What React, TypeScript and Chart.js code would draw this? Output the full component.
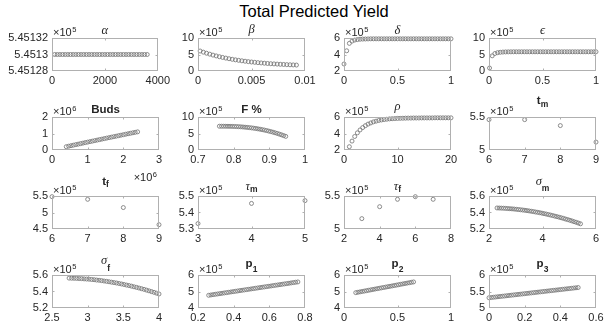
import React, { useEffect, useRef } from 'react';
import { Chart, registerables } from 'chart.js';
Chart.register(...registerables);

// ---------------- data (mantissas; exponents given per subplot) ----------------
const alphaX = [100,200,300,400,500,600,700,800,900,1000,1100,1200,1300,1400,1500,1600,1700,1800,1900,2000,2100,2200,2300,2400,2500,2600,2700,2800,2900,3000,3100,3200,3300,3400,3500,3600];
const alphaY = [5.4513,5.4513,5.4513,5.4513,5.4513,5.4513,5.4513,5.4513,5.4513,5.4513,5.4513,5.4513,5.4513,5.4513,5.4513,5.4513,5.4513,5.4513,5.4513,5.4513,5.4513,5.4513,5.4513,5.4513,5.4513,5.4513,5.4513,5.4513,5.4513,5.4513,5.4513,5.4513,5.4513,5.4513,5.4513,5.4513];

const betaX = [0.0002,0.0005,0.0008,0.0011,0.0014,0.0017,0.002,0.0023,0.0026,0.0029,0.0032,0.0035,0.0038,0.0041,0.0044,0.0047,0.005,0.0053,0.0056,0.0059,0.0062,0.0065,0.0068,0.0071,0.0074,0.0077,0.008,0.0083,0.0086,0.0089,0.0092];
const betaY = [6.06,5.71,5.39,5.10,4.82,4.57,4.33,4.11,3.91,3.72,3.55,3.38,3.23,3.09,2.96,2.84,2.73,2.63,2.53,2.44,2.36,2.28,2.21,2.15,2.09,2.03,1.98,1.93,1.88,1.84,1.80];

const deltaX = [0,0.025,0.05,0.075,0.1,0.125,0.15,0.175,0.2,0.225,0.25,0.275,0.3,0.325,0.35,0.375,0.4,0.425,0.45,0.475,0.5,0.525,0.55,0.575,0.6,0.625,0.65,0.675,0.7,0.725,0.75,0.775,0.8,0.825,0.85,0.875,0.9,0.925,0.95,0.975,1];
const deltaY = [2.85,4.45,5.35,5.62,5.75,5.81,5.85,5.87,5.88,5.89,5.9,5.9,5.9,5.9,5.9,5.9,5.9,5.9,5.9,5.9,5.9,5.9,5.9,5.9,5.9,5.9,5.9,5.9,5.9,5.9,5.9,5.9,5.9,5.9,5.9,5.9,5.9,5.9,5.9,5.9,5.9];

const epsilonX = [0.005,0.03,0.055,0.08,0.105,0.13,0.155,0.18,0.205,0.23,0.255,0.28,0.305,0.33,0.355,0.38,0.405,0.43,0.455,0.48,0.505,0.53,0.555,0.58,0.605,0.63,0.655,0.68,0.705,0.73,0.755,0.78,0.805,0.83,0.855,0.88,0.905,0.93,0.955,0.98,1];
const epsilonY = [0.9,4.6,5.3,5.55,5.67,5.74,5.78,5.8,5.81,5.82,5.82,5.82,5.82,5.82,5.82,5.82,5.82,5.82,5.82,5.82,5.82,5.82,5.82,5.82,5.82,5.82,5.82,5.82,5.82,5.82,5.82,5.82,5.82,5.82,5.82,5.82,5.82,5.82,5.82,5.82,5.82];

const budsX = [0.4,0.467,0.533,0.6,0.667,0.733,0.8,0.867,0.933,1.0,1.067,1.133,1.2,1.267,1.333,1.4,1.467,1.533,1.6,1.667,1.733,1.8,1.867,1.933,2.0,2.067,2.133,2.2,2.267,2.333,2.4];
const budsY = [0.2,0.231,0.262,0.294,0.325,0.355,0.386,0.417,0.448,0.478,0.509,0.539,0.57,0.6,0.63,0.66,0.69,0.72,0.75,0.78,0.809,0.838,0.868,0.897,0.926,0.956,0.985,1.014,1.043,1.071,1.1];

const fPctX = [0.76,0.766,0.772,0.778,0.784,0.79,0.796,0.802,0.808,0.814,0.82,0.826,0.832,0.838,0.844,0.85,0.856,0.862,0.868,0.874,0.88,0.886,0.892,0.898,0.904,0.91,0.916,0.922,0.928,0.934,0.94,0.946];
const fPctY = [7.2,7.2,7.2,7.19,7.18,7.17,7.15,7.13,7.1,7.06,7.02,6.97,6.91,6.85,6.78,6.7,6.61,6.52,6.41,6.3,6.17,6.04,5.9,5.74,5.58,5.41,5.22,5.03,4.82,4.6,4.37,4.13];

const rhoX = [1,1.5,2,2.5,3,3.5,4,4.5,5,5.5,6,6.5,7,7.5,8,8.5,9,9.5,10,10.5,11,11.5,12,12.5,13,13.5,14,14.5,15,15.5,16,16.5,17,17.5,18,18.5,19,19.5,20];
const rhoY = [2.4,3.08,3.64,4.08,4.43,4.72,4.95,5.14,5.28,5.41,5.5,5.58,5.64,5.69,5.73,5.77,5.79,5.81,5.83,5.84,5.85,5.86,5.87,5.87,5.88,5.88,5.88,5.89,5.89,5.89,5.89,5.89,5.9,5.9,5.9,5.9,5.9,5.9,5.9];

const tmX = [6,7,8,9];
const tmY = [5.46,5.46,5.37,5.12];
const tfX = [6,7,8,9];
const tfY = [5.48,5.4,5.15,4.63];
const tauMX = [3,4,5];
const tauMY = [5.333,5.455,5.472];
const tauFX = [3,4,5,6,7];
const tauFY = [5.157,5.338,5.45,5.49,5.45];

const sigmaMX = [2.30,2.38,2.46,2.54,2.62,2.70,2.78,2.86,2.94,3.02,3.10,3.18,3.26,3.34,3.42,3.50,3.58,3.66,3.74,3.82,3.90,3.98,4.06,4.14,4.22,4.30,4.38,4.46,4.54,4.62,4.70,4.78,4.86,4.94,5.02,5.10,5.18,5.26,5.34,5.42];
const sigmaMY = [5.455,5.454,5.453,5.452,5.45,5.448,5.446,5.444,5.442,5.439,5.436,5.433,5.43,5.427,5.423,5.419,5.415,5.411,5.406,5.402,5.397,5.392,5.386,5.381,5.375,5.369,5.363,5.356,5.35,5.343,5.336,5.329,5.321,5.314,5.306,5.298,5.289,5.281,5.272,5.263];

const sigmaFX = [2.74,2.775,2.81,2.845,2.88,2.915,2.95,2.985,3.02,3.055,3.09,3.125,3.16,3.195,3.23,3.265,3.3,3.335,3.37,3.405,3.44,3.475,3.51,3.545,3.58,3.615,3.65,3.685,3.72,3.755,3.79,3.825,3.86,3.895,3.93,3.965,4.0];
const sigmaFY = [5.562,5.561,5.56,5.559,5.557,5.556,5.553,5.551,5.549,5.546,5.543,5.539,5.536,5.532,5.527,5.523,5.518,5.513,5.508,5.503,5.497,5.491,5.485,5.478,5.472,5.465,5.457,5.45,5.442,5.434,5.426,5.417,5.408,5.399,5.39,5.38,5.37];

const p1X = [0.26,0.2725,0.285,0.2975,0.31,0.3225,0.335,0.3475,0.36,0.3725,0.385,0.3975,0.41,0.4225,0.435,0.4475,0.46,0.4725,0.485,0.4975,0.51,0.5225,0.535,0.5475,0.56,0.5725,0.585,0.5975,0.61,0.6225,0.635,0.6475,0.66,0.6725,0.685,0.6975,0.71,0.7225,0.735,0.7475,0.76];
const p1Y = [4.77,4.79,4.811,4.831,4.851,4.871,4.892,4.912,4.932,4.952,4.973,4.993,5.013,5.033,5.054,5.074,5.094,5.115,5.135,5.155,5.175,5.196,5.216,5.236,5.256,5.277,5.297,5.317,5.337,5.358,5.378,5.398,5.418,5.439,5.459,5.479,5.499,5.52,5.54,5.56,5.58];

const p2X = [0.11,0.13,0.15,0.17,0.19,0.21,0.23,0.25,0.27,0.29,0.31,0.33,0.35,0.37,0.39,0.41,0.43,0.45,0.47,0.49,0.51,0.53,0.55,0.57,0.59,0.61,0.63,0.65];
const p2Y = [4.93,4.954,4.978,5.002,5.026,5.05,5.074,5.099,5.123,5.147,5.171,5.195,5.219,5.243,5.267,5.291,5.315,5.339,5.363,5.387,5.411,5.436,5.46,5.484,5.508,5.532,5.556,5.58];

const p3X = [0,0.0125,0.025,0.0375,0.05,0.0625,0.075,0.0875,0.1,0.1125,0.125,0.1375,0.15,0.1625,0.175,0.1875,0.2,0.2125,0.225,0.2375,0.25,0.2625,0.275,0.2875,0.3,0.3125,0.325,0.3375,0.35,0.3625,0.375,0.3875,0.4,0.4125,0.425,0.4375,0.45,0.4625,0.475,0.4875,0.5];
const p3Y = [5.31,5.318,5.326,5.333,5.341,5.349,5.357,5.364,5.372,5.38,5.388,5.395,5.403,5.411,5.419,5.426,5.434,5.442,5.45,5.457,5.465,5.473,5.481,5.488,5.496,5.504,5.512,5.519,5.527,5.535,5.543,5.55,5.558,5.566,5.574,5.581,5.589,5.597,5.605,5.612,5.62];

// tick values
const alphaXTicks = [0, 2000, 4000];
const alphaYTicks = [5.45128, 5.4513, 5.45132];
const betaXTicks = [0, 0.005, 0.01];
const betaYTicks = [0, 5, 10];
const unitXTicks = [0, 0.5, 1];
const deltaYTicks = [2, 4, 6];
const epsilonYTicks = [0, 5, 10];
const budsXTicks = [0, 1, 2, 3];
const budsYTicks = [0, 1, 2];
const fPctXTicks = [0.7, 0.8, 0.9, 1];
const fPctYTicks = [0, 5, 10];
const rhoXTicks = [0, 10, 20];
const rhoYTicks = [2, 4, 6];
const tXTicks = [6, 7, 8, 9];
const tmYTicks = [5, 5.5];
const tfYTicks = [4.5, 5, 5.5];
const tauMXTicks = [3, 4, 5];
const tauMYTicks = [5.3, 5.4, 5.5];
const tauFXTicks = [2, 4, 6, 8];
const tauFYTicks = [5, 5.5];
const sigmaMXTicks = [2, 4, 6];
const sigmaYTicks = [5.2, 5.4, 5.6];
const sigmaFXTicks = [2.5, 3, 3.5, 4];
const p1XTicks = [0.2, 0.4, 0.6, 0.8];
const pYTicks = [4, 5, 6];
const p2XTicks = [0, 0.5, 1];
const p3XTicks = [0, 0.2, 0.4, 0.6];
const p3YTicks = [5, 5.5, 6];

// ---------------- styling ----------------
const SANS = '"Liberation Sans", Arial, Helvetica, sans-serif';
const G = 'italic 12.5px "Liberation Serif", "DejaVu Serif", serif';
const B = `bold 11.5px ${SANS}`;
const BS = `bold 8.5px ${SANS}`;
const TXT = '#262626';
const BOX = '#b0b0b0';
const MARK = '#777777';
const TICK_SIZE = 11;

const PL = 50, PT = 24, PR = 14, PB = 34;
const W = 107, H = 33;
const CW = PL + W + PR, CH = PT + H + PB;
const COLS = [52, 198, 344, 489];
const ROWS = [38, 117, 196, 275];

type Part = { t: string; font: string; dy: number };
type Sub = { x: number[]; y: number[]; xt: number[]; yt: number[]; yexp: number; xexp?: number; title: Part[] };

const subs: Sub[] = [
  { x: alphaX, y: alphaY, xt: alphaXTicks, yt: alphaYTicks, yexp: 5, title: [{ t: 'α', font: G, dy: -4 }] },
  { x: betaX, y: betaY, xt: betaXTicks, yt: betaYTicks, yexp: 5, title: [{ t: 'β', font: G, dy: -5 }] },
  { x: deltaX, y: deltaY, xt: unitXTicks, yt: deltaYTicks, yexp: 5, title: [{ t: 'δ', font: G, dy: -4 }] },
  { x: epsilonX, y: epsilonY, xt: unitXTicks, yt: epsilonYTicks, yexp: 5, title: [{ t: 'ϵ', font: G, dy: -4 }] },
  { x: budsX, y: budsY, xt: budsXTicks, yt: budsYTicks, yexp: 6, xexp: 6, title: [{ t: 'Buds', font: B, dy: -4.5 }] },
  { x: fPctX, y: fPctY, xt: fPctXTicks, yt: fPctYTicks, yexp: 5, title: [{ t: 'F %', font: B, dy: -4.5 }] },
  { x: rhoX, y: rhoY, xt: rhoXTicks, yt: rhoYTicks, yexp: 5, title: [{ t: 'ρ', font: G, dy: -7 }] },
  { x: tmX, y: tmY, xt: tXTicks, yt: tmYTicks, yexp: 5, title: [{ t: 't', font: B, dy: -13 }, { t: 'm', font: BS, dy: -10 }] },
  { x: tfX, y: tfY, xt: tXTicks, yt: tfYTicks, yexp: 5, title: [{ t: 't', font: B, dy: -11.5 }, { t: 'f', font: BS, dy: -9 }] },
  { x: tauMX, y: tauMY, xt: tauMXTicks, yt: tauMYTicks, yexp: 5, title: [{ t: 'τ', font: G, dy: -6 }, { t: 'm', font: BS, dy: -4 }] },
  { x: tauFX, y: tauFY, xt: tauFXTicks, yt: tauFYTicks, yexp: 5, title: [{ t: 'τ', font: G, dy: -6.5 }, { t: 'f', font: BS, dy: -4 }] },
  { x: sigmaMX, y: sigmaMY, xt: sigmaMXTicks, yt: sigmaYTicks, yexp: 5, title: [{ t: 'σ', font: G, dy: -11.5 }, { t: 'm', font: BS, dy: -5.5 }] },
  { x: sigmaFX, y: sigmaFY, xt: sigmaFXTicks, yt: sigmaYTicks, yexp: 5, title: [{ t: 'σ', font: G, dy: -11 }, { t: 'f', font: BS, dy: -4.5 }] },
  { x: p1X, y: p1Y, xt: p1XTicks, yt: pYTicks, yexp: 5, title: [{ t: 'p', font: B, dy: -8 }, { t: '1', font: BS, dy: -3 }] },
  { x: p2X, y: p2Y, xt: p2XTicks, yt: pYTicks, yexp: 5, title: [{ t: 'p', font: B, dy: -8 }, { t: '2', font: BS, dy: -3 }] },
  { x: p3X, y: p3Y, xt: p3XTicks, yt: p3YTicks, yexp: 5, title: [{ t: 'p', font: B, dy: -8 }, { t: '3', font: BS, dy: -3 }] },
];

const fmt = (v: any) => String(parseFloat(Number(v).toFixed(8)));

function makeConfig(s: Sub): any {
  const decor = {
    id: 'decor',
    afterDraw(chart: any) {
      const { ctx, chartArea: a } = chart;
      const xs = chart.scales.x, ys = chart.scales.y;
      ctx.save();
      ctx.strokeStyle = BOX;
      ctx.lineWidth = 1;
      const l = Math.round(a.left) + 0.5, r = Math.round(a.right) - 0.5;
      const t = Math.round(a.top) + 0.5, b = Math.round(a.bottom) - 0.5;
      ctx.strokeRect(l, t, r - l, b - t);
      ctx.beginPath();
      for (const v of s.xt) {
        const p = Math.min(r, Math.max(l, Math.round(xs.getPixelForValue(v)) + 0.5));
        ctx.moveTo(p, b); ctx.lineTo(p, b - 2);
        ctx.moveTo(p, t); ctx.lineTo(p, t + 2);
      }
      for (const v of s.yt) {
        const p = Math.min(b, Math.max(t, Math.round(ys.getPixelForValue(v)) + 0.5));
        ctx.moveTo(l, p); ctx.lineTo(l + 2, p);
        ctx.moveTo(r, p); ctx.lineTo(r - 2, p);
      }
      ctx.stroke();

      ctx.fillStyle = TXT;
      ctx.textAlign = 'left';
      ctx.textBaseline = 'alphabetic';
      // y exponent
      ctx.font = `${TICK_SIZE}px ${SANS}`;
      ctx.fillText('×10', a.left + 1, a.top - 2);
      const w = ctx.measureText('×10').width;
      ctx.font = `7.5px ${SANS}`;
      ctx.fillText(String(s.yexp), a.left + 1 + w + 0.5, a.top - 6);
      // x exponent
      if (s.xexp) {
        ctx.font = `7.5px ${SANS}`;
        const ws = ctx.measureText(String(s.xexp)).width;
        ctx.fillText(String(s.xexp), a.right - 2 - ws, a.bottom + 27);
        ctx.font = `${TICK_SIZE}px ${SANS}`;
        const wb = ctx.measureText('×10').width;
        ctx.fillText('×10', a.right - 2 - ws - 0.5 - wb, a.bottom + 31);
      }
      // title
      let total = 0;
      for (const p of s.title) { ctx.font = p.font; total += ctx.measureText(p.t).width; }
      let x = (a.left + a.right) / 2 - total / 2;
      for (const p of s.title) {
        ctx.font = p.font;
        ctx.fillText(p.t, x, a.top + p.dy);
        x += ctx.measureText(p.t).width;
      }
      ctx.restore();
    },
  };

  const tickOpts = {
    autoSkip: false,
    maxRotation: 0,
    minRotation: 0,
    color: TXT,
    font: { family: SANS, size: TICK_SIZE },
    callback: fmt,
  };

  return {
    type: 'scatter',
    data: {
      datasets: [{
        data: s.x.map((x, i) => ({ x, y: s.y[i] })),
        pointStyle: 'circle',
        pointRadius: 2,
        pointHoverRadius: 2,
        borderWidth: 0.85,
        borderColor: MARK,
        backgroundColor: 'rgba(0,0,0,0)',
        showLine: false,
        clip: false,
      }],
    },
    options: {
      responsive: false,
      maintainAspectRatio: false,
      animation: false,
      devicePixelRatio: 1,
      events: [],
      layout: { padding: { left: 0, top: PT, right: PR, bottom: 0 } },
      plugins: { legend: { display: false }, tooltip: { enabled: false }, title: { display: false } },
      scales: {
        x: {
          type: 'linear',
          position: 'bottom',
          min: s.xt[0],
          max: s.xt[s.xt.length - 1],
          grid: { display: false, drawTicks: false },
          border: { display: false },
          ticks: { ...tickOpts, padding: 3 },
          afterBuildTicks: (sc: any) => { sc.ticks = s.xt.map((v) => ({ value: v })); },
          afterFit: (sc: any) => { sc.height = PB; },
        },
        y: {
          type: 'linear',
          position: 'left',
          min: s.yt[0],
          max: s.yt[s.yt.length - 1],
          grid: { display: false, drawTicks: false },
          border: { display: false },
          ticks: { ...tickOpts, padding: 4 },
          afterBuildTicks: (sc: any) => { sc.ticks = s.yt.map((v) => ({ value: v })); },
          afterFit: (sc: any) => { sc.width = PL; },
        },
      },
    },
    plugins: [decor],
  };
}

function SubPlot({ s, left, top }: { s: Sub; left: number; top: number }) {
  const ref = useRef<HTMLCanvasElement>(null);
  useEffect(() => {
    const chart = new Chart(ref.current as HTMLCanvasElement, makeConfig(s));
    return () => chart.destroy();
  }, [s]);
  return (
    <canvas
      ref={ref}
      width={CW}
      height={CH}
      style={{ position: 'absolute', left, top, width: CW, height: CH }}
    />
  );
}

export default function App() {
  return (
    <div style={{ position: 'fixed', left: 0, top: 0, width: 608, height: 327, background: '#ffffff', overflow: 'hidden' }}>
      <div
        style={{
          position: 'absolute', left: 0, top: 1, width: 628, textAlign: 'center',
          font: `16.5px ${SANS}`, lineHeight: '20px', color: '#000000',
        }}
      >
        Total Predicted Yield
      </div>
      {subs.map((s, i) => (
        <SubPlot key={i} s={s} left={COLS[i % 4] - PL} top={ROWS[Math.floor(i / 4)] - PT} />
      ))}
    </div>
  );
}
